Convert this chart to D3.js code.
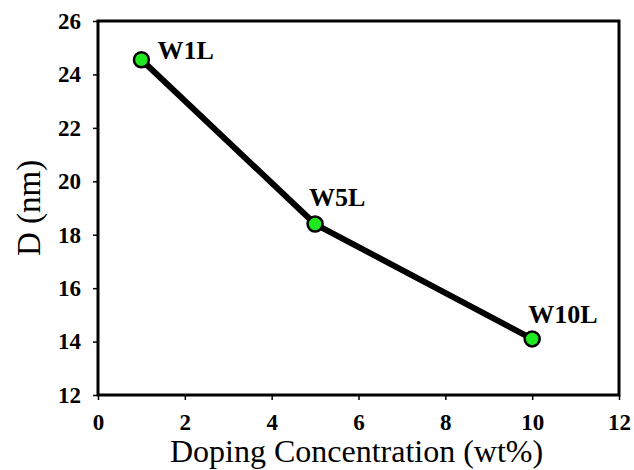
<!DOCTYPE html>
<html>
<head>
<meta charset="utf-8">
<script src="https://cdn.jsdelivr.net/npm/d3@7"></script>
<style>
  html, body { margin: 0; padding: 0; background: #fff; }
  svg { display: block; }
  text { font-family: "Liberation Serif", "Times New Roman", serif; fill: #000; }
</style>
</head>
<body>
<svg id="chart" width="634" height="470"></svg>
<script>
// Crystallite size D versus doping concentration
const samples = ["W1L", "W5L", "W10L"];
const doping = [1, 5, 10];          // wt%
const crystalSize = [24.55, 18.4, 14.1]; // nm
const xTicks = [0, 2, 4, 6, 8, 10, 12];
const yTicks = [12, 14, 16, 18, 20, 22, 24, 26];

const svg = d3.select("#chart");
const margin = { left: 98, right: 15, top: 21, bottom: 75 };
const W = 634, H = 470;

const x = d3.scaleLinear().domain([0, 12]).range([margin.left, W - margin.right]);
const y = d3.scaleLinear().domain([12, 26]).range([H - margin.bottom, margin.top]);

// Plot frame
svg.append("rect")
  .attr("x", x(0)).attr("y", y(26))
  .attr("width", x(12) - x(0)).attr("height", y(12) - y(26))
  .attr("fill", "none").attr("stroke", "#000").attr("stroke-width", 3);

// Axes
const xAxis = svg.append("g")
  .attr("transform", `translate(0,${y(12)})`)
  .call(d3.axisBottom(x).tickValues(xTicks).tickSize(5).tickPadding(14));
const yAxis = svg.append("g")
  .attr("transform", `translate(${x(0)},0)`)
  .call(d3.axisLeft(y).tickValues(yTicks).tickSize(5).tickPadding(12));

[xAxis, yAxis].forEach(g => {
  g.select(".domain").remove();
  g.selectAll(".tick line").attr("stroke", "#000").attr("stroke-width", 1.5);
  g.selectAll(".tick text")
    .attr("font-family", "'Liberation Serif', 'Times New Roman', serif")
    .attr("font-size", 23).attr("font-weight", "bold").attr("fill", "#000");
});

// Axis titles
svg.append("text")
  .attr("x", (x(0) + x(12)) / 2 - 2).attr("y", 462)
  .attr("text-anchor", "middle").attr("font-size", 32)
  .text("Doping Concentration (wt%)");
svg.append("text")
  .attr("transform", `translate(40,${(y(12) + y(26)) / 2}) rotate(-90)`)
  .attr("text-anchor", "middle").attr("font-size", 33)
  .text("D (nm)");

// Trend line
const pts = doping.map((d, i) => ({ x: d, y: crystalSize[i], name: samples[i] }));
svg.append("path")
  .datum(pts)
  .attr("fill", "none").attr("stroke", "#000").attr("stroke-width", 6)
  .attr("stroke-linejoin", "round")
  .attr("d", d3.line().x(d => x(d.x)).y(d => y(d.y)));

// Markers
svg.selectAll("circle.pt")
  .data(pts).join("circle")
  .attr("class", "pt")
  .attr("cx", d => x(d.x)).attr("cy", d => y(d.y)).attr("r", 7.5)
  .attr("fill", "#1fe81f").attr("stroke", "#000").attr("stroke-width", 2.5);

// Sample labels
const labelShift = [[16, -1], [-6, -18], [-4, -16]];
svg.selectAll("text.lbl")
  .data(pts).join("text")
  .attr("class", "lbl")
  .attr("x", (d, i) => x(d.x) + labelShift[i][0])
  .attr("y", (d, i) => y(d.y) + labelShift[i][1])
  .attr("font-size", 26).attr("font-weight", "bold")
  .text(d => d.name);
</script>
</body>
</html>
